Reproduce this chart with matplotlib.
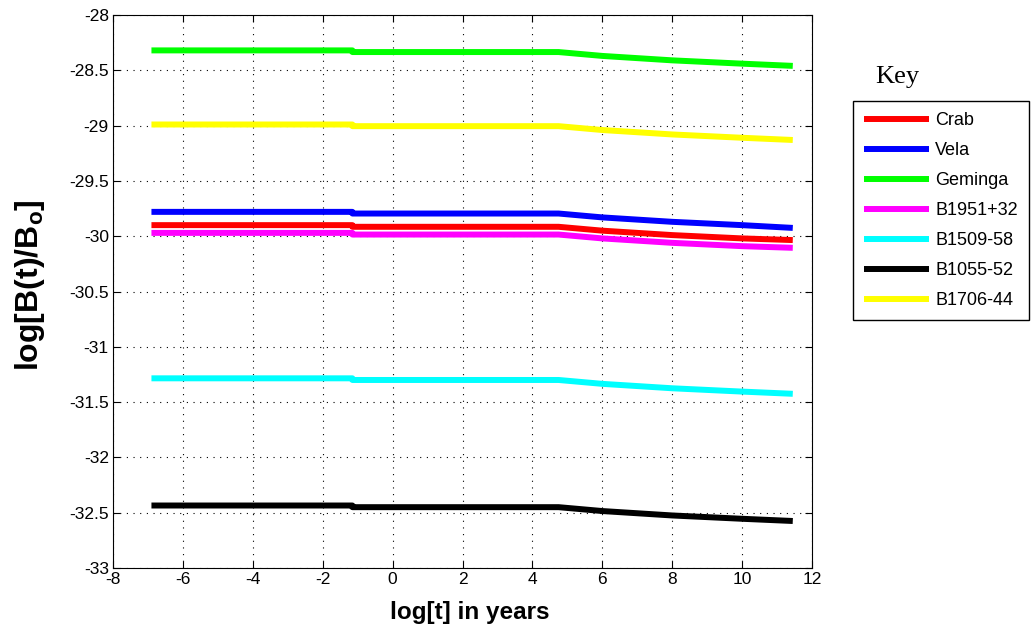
import matplotlib
matplotlib.use("Agg")
import matplotlib.pyplot as plt

plt.rcParams['font.family'] = ['Liberation Sans', 'DejaVu Sans']

log_t = [-6.9, -1.15, -1.15, 4.75, 6.0, 8.0, 10.0, 11.45]

names = ["Crab", "Vela", "Geminga", "B1951+32", "B1509-58", "B1055-52", "B1706-44"]
colors = ["#ff0000", "#0000ff", "#00ff00", "#ff00ff", "#00ffff", "#000000", "#ffff00"]

crab = [-29.90, -29.90, -29.915, -29.915, -29.95, -29.99, -30.02, -30.035]
vela = [-29.78, -29.78, -29.795, -29.795, -29.83, -29.87, -29.90, -29.925]
geminga = [-28.32, -28.32, -28.335, -28.335, -28.37, -28.41, -28.44, -28.46]
b1951 = [-29.97, -29.97, -29.985, -29.985, -30.02, -30.06, -30.09, -30.105]
b1509 = [-31.285, -31.285, -31.30, -31.30, -31.335, -31.375, -31.405, -31.425]
b1055 = [-32.435, -32.435, -32.45, -32.45, -32.485, -32.525, -32.555, -32.575]
b1706 = [-28.99, -28.99, -29.005, -29.005, -29.04, -29.08, -29.11, -29.13]

series = [crab, vela, geminga, b1951, b1509, b1055, b1706]

xticks = [-8, -6, -4, -2, 0, 2, 4, 6, 8, 10, 12]
yticks = [-33, -32.5, -32, -31.5, -31, -30.5, -30, -29.5, -29, -28.5, -28]

fig = plt.figure(figsize=(10.36, 6.33), dpi=100)
ax = fig.add_axes([113/1036, 1-568/633, (812-113)/1036, (568-15)/633])

lines = []
for name, col, ys in zip(names, colors, series):
    ln, = ax.plot(log_t, ys, color=col, lw=4.3, label=name, solid_capstyle='butt')
    lines.append(ln)

ax.set_xlim(-8, 12)
ax.set_ylim(-33, -28)
ax.set_xticks(xticks)
ax.set_yticks(yticks)
ax.set_xticklabels([f"{v:g}" for v in xticks])
ax.set_yticklabels([f"{v:g}" for v in yticks])
ax.grid(True, color='black', linestyle=(0, (1, 5)), linewidth=0.8)
ax.tick_params(direction='in', top=True, right=True, labelsize=12.5, length=5, width=0.8, pad=3)
for s in ax.spines.values():
    s.set_linewidth(0.8)
ax.set_xlabel("log[t] in years", fontsize=17.5, fontweight='bold')
ax.xaxis.set_label_coords((470-113)/699, (568-612)/553)
ax.xaxis.label.set_va('center')
ax.set_ylabel(r"log[B(t)/B$_\mathregular{o}$]", fontsize=23, fontweight='bold')
ax.yaxis.set_label_coords((30-113)/699, (568-285)/553)
ax.yaxis.label.set_va('center')

leg = fig.legend(handles=lines, loc='upper left', bbox_to_anchor=(853/1036, 1-101/633),
                 fontsize=13, handlelength=3.6, handletextpad=0.35, labelspacing=0.72,
                 borderpad=0.6, borderaxespad=0, fancybox=False, framealpha=1, edgecolor='black')
leg.get_frame().set_linewidth(1.0)
fig.text(897/1036, 1-77/633, "Key", fontsize=19, family=['Liberation Serif'], ha='center', va='center')

fig.savefig("out.png", dpi=100)
